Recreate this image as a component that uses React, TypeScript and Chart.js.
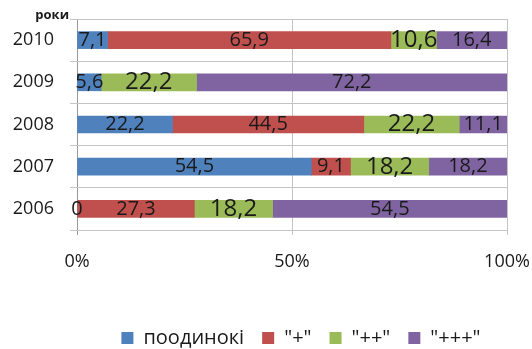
import React, { useEffect, useRef } from 'react';
import { Chart, registerables } from 'chart.js';

Chart.register(...registerables);

const years = ['2010', '2009', '2008', '2007', '2006'];
const seriesNames = ['поодинокі', '"+"', '"++"', '"+++"'];
const single = [7.1, 5.6, 22.2, 54.5, 0];
const plus1 = [65.9, null, 44.5, 9.1, 27.3];
const plus2 = [10.6, 22.2, 22.2, 18.2, 18.2];
const plus3 = [16.4, 72.2, 11.1, 18.2, 54.5];
const xTickValues = [0, 50, 100];
const axisNote = 'роки';

const colors = ['#4F81BD', '#C0504D', '#9BBB59', '#8064A2'];
const FONT = "'Open Sans', sans-serif";
const TEXT = '#1a1a1a';

const valueLabels = {
  id: 'valueLabels',
  afterDatasetsDraw(chart: any) {
    const ctx = chart.ctx;
    chart.data.datasets.forEach((ds: any, di: number) => {
      const meta = chart.getDatasetMeta(di);
      meta.data.forEach((bar: any, i: number) => {
        const v = ds.data[i];
        if (v === null || v === undefined) return;
        const p = bar.getProps(['x', 'base', 'y'], true);
        ctx.save();
        ctx.font = `${di === 2 ? 24 : 20}px ${FONT}`;
        ctx.fillStyle = TEXT;
        ctx.textAlign = 'center';
        ctx.textBaseline = 'middle';
        ctx.fillText(String(v).replace('.', ','), (p.x + p.base) / 2, p.y);
        ctx.restore();
      });
    });
    const area = chart.chartArea;
    ctx.save();
    ctx.font = `bold 13px ${FONT}`;
    ctx.fillStyle = TEXT;
    ctx.textAlign = 'right';
    ctx.textBaseline = 'middle';
    ctx.fillText(axisNote, area.left - 8, area.top - 4);
    ctx.restore();
  },
};

const legendPlacer = {
  id: 'legendPlacer',
  afterLayout(chart: any) {
    const lg = chart.legend;
    if (!lg) return;
    const w = lg.right - lg.left;
    lg.left = 301 - w / 2;
    lg.right = lg.left + w;
    const h = lg.bottom - lg.top;
    lg.top = 310;
    lg.bottom = lg.top + h;
  },
};

export default function App() {
  const ref = useRef<HTMLCanvasElement | null>(null);

  useEffect(() => {
    if (!ref.current) return;
    const seriesData = [single, plus1, plus2, plus3];
    const chart = new Chart(ref.current, {
      type: 'bar',
      data: {
        labels: years,
        datasets: seriesNames.map((name, i) => ({
          label: name,
          data: seriesData[i],
          backgroundColor: colors[i],
          borderWidth: 0,
          barThickness: 17,
        })),
      },
      options: {
        indexAxis: 'y',
        animation: false,
        responsive: false,
        layout: { padding: { top: 19, right: 25, left: 0, bottom: 0 } },
        plugins: {
          legend: {
            position: 'bottom',
            labels: {
              boxWidth: 12,
              boxHeight: 12,
              padding: 18,
              color: TEXT,
              font: { family: FONT, size: 20 },
            },
          },
          tooltip: { enabled: false },
        },
        scales: {
          x: {
            stacked: true,
            min: 0,
            max: 100,
            afterBuildTicks: (s: any) => {
              s.ticks = xTickValues.map((v) => ({ value: v }));
            },
            ticks: {
              callback: (v: any) => `${v}%`,
              color: TEXT,
              padding: 16,
              maxRotation: 0,
              font: { family: FONT, size: 18 },
            },
            grid: {
              color: (c: any) => (c.tick && c.tick.value === 0 ? '#999999' : '#c4c4c4'),
              tickLength: 5,
            },
            border: { display: false },
            afterFit: (s: any) => {
              const lh = s.chart.legend ? s.chart.legend.height : 0;
              s.height = s.chart.height - 230 - lh;
              s.paddingLeft = 0;
              s.paddingRight = 0;
            },
          },
          y: {
            stacked: true,
            ticks: {
              color: TEXT,
              padding: 16,
              font: { family: FONT, size: 18 },
            },
            grid: {
              offset: true,
              color: '#c4c4c4',
              tickLength: 7,
            },
            border: { display: false },
            afterFit: (s: any) => {
              s.width = 77;
              s.paddingTop = 0;
              s.paddingBottom = 0;
            },
          },
        },
      },
      plugins: [valueLabels, legendPlacer],
    });
    return () => chart.destroy();
  }, []);

  return (
    <div style={{ position: 'fixed', left: 0, top: 0, width: 532, height: 349, background: '#fff' }}>
      <canvas ref={ref} width={532} height={349} />
    </div>
  );
}
